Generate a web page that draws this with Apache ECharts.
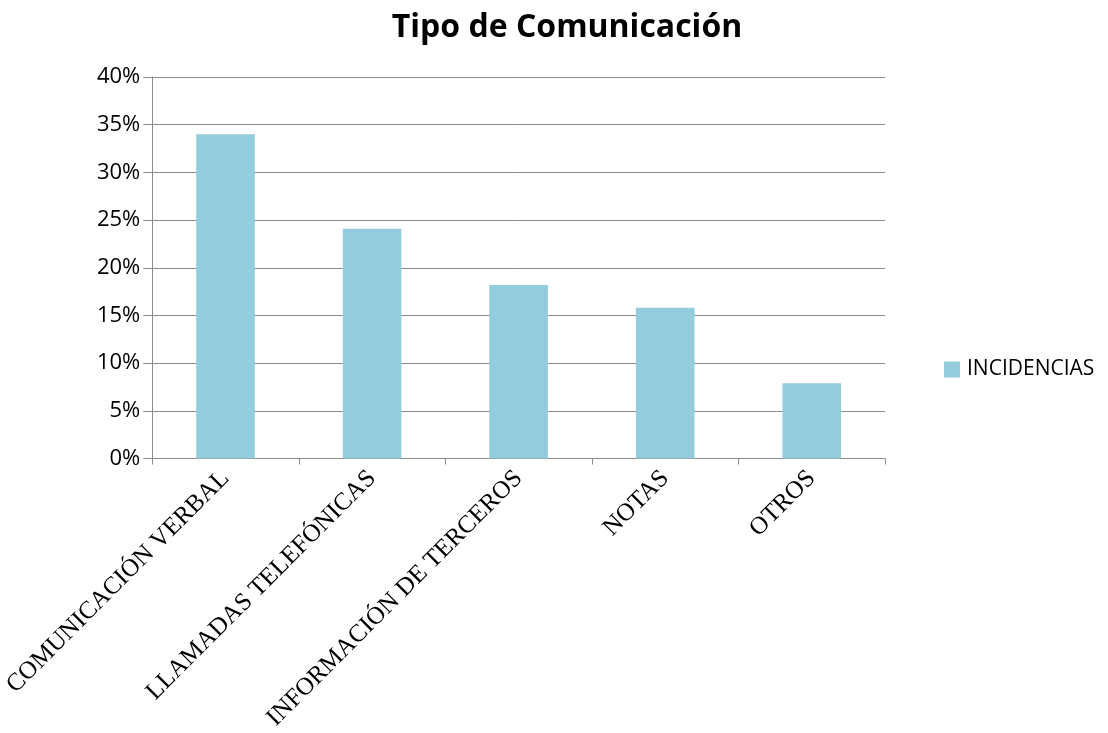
<!DOCTYPE html>
<html><head><meta charset="utf-8">
<script src="https://cdn.jsdelivr.net/npm/echarts@6/dist/echarts.min.js"></script>
<style>html,body{margin:0;padding:0;background:#fff}#c{width:1108px;height:733px}</style>
</head><body><div id="c"></div>
<script>
const categories = ["COMUNICACIÓN VERBAL", "LLAMADAS TELEFÓNICAS", "INFORMACIÓN DE TERCEROS", "NOTAS", "OTROS"];
const seriesName = "INCIDENCIAS";
const values = [0.34, 0.241, 0.182, 0.158, 0.079];
const yTicks = [0, 0.05, 0.10, 0.15, 0.20, 0.25, 0.30, 0.35, 0.40];

const chart = echarts.init(document.getElementById('c'));
chart.setOption({
  animation: false,
  backgroundColor: '#fff',
  title: {
    text: 'Tipo de Comunicación', left: 562, top: 7, textAlign: 'center',
    textStyle: { fontFamily: 'Open Sans', fontWeight: 'bold', fontSize: 32, color: '#000' }
  },
  legend: {
    data: [seriesName], orient: 'vertical', left: 944, top: 359, padding: 0,
    itemWidth: 16, itemHeight: 16, itemGap: 6, icon: 'rect',
    textStyle: { fontFamily: 'Open Sans', fontSize: 21, color: '#000', padding: [0, 0, 0, 2] }
  },
  grid: { left: 152, right: 223, top: 77, bottom: 274, containLabel: false },
  xAxis: {
    type: 'category', data: categories,
    axisLine: { lineStyle: { color: '#8c8c8c', width: 1 } },
    axisTick: { show: true, length: 6, lineStyle: { color: '#8c8c8c' } },
    axisLabel: { rotate: 45, interval: 0, margin: 16, fontFamily: 'Liberation Serif', fontSize: 25, color: '#000' }
  },
  yAxis: {
    type: 'value', min: 0, max: 0.40, interval: 0.05,
    axisLine: { show: true, lineStyle: { color: '#8c8c8c' } },
    axisTick: { show: true, length: 9, lineStyle: { color: '#8c8c8c' } },
    splitLine: { lineStyle: { color: '#8c8c8c', width: 1 } },
    axisLabel: {
      margin: 12, fontFamily: 'Open Sans', fontSize: 22, color: '#000',
      formatter: v => Math.round(v * 100) + '%'
    }
  },
  series: [{
    name: seriesName, type: 'bar', data: values, barWidth: '40%',
    itemStyle: { color: '#93cddd' }
  }]
});
</script></body></html>
